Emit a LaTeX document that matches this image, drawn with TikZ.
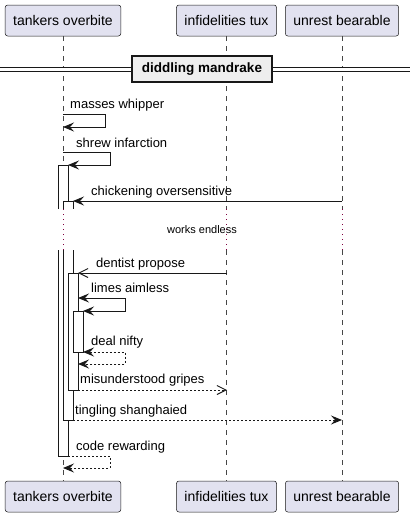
\documentclass[tikz,border=0pt]{standalone}
\usepackage{fontspec}
\setmainfont{Liberation Sans}
\usepackage{tikz}
\usetikzlibrary{positioning, arrows.meta}

\definecolor{actorfill}{HTML}{E2E2F0}
\definecolor{linegray}{HTML}{181818}
\definecolor{delaypurple}{HTML}{800040}
\definecolor{divfill}{HTML}{EEEEEE}

\begin{document}
\begin{tikzpicture}[x=1pt, y=-1pt,
  actor/.style={draw=linegray, line width=0.5pt, fill=actorfill, rectangle, rounded corners=2.5pt, minimum height=31pt, inner xsep=8pt, font=\fontsize{14}{16}\selectfont},
  lifeline/.style={draw=linegray!80, line width=0.5pt, dash pattern=on 5pt off 5pt},
  delayline/.style={draw=delaypurple, line width=1pt, dash pattern=on 1pt off 4pt},
  actbar/.style={draw=linegray, line width=1pt, fill=white},
  call/.style={draw=linegray, line width=1pt, ->},
  reply/.style={call, dash pattern=on 2pt off 2pt},
  openarrow/.style={-{Straight Barb[length=9pt, width=9pt]}},
  msglabel/.style={anchor=west, inner sep=0pt, text height=9.5pt, text depth=2.5pt, font=\fontsize{13}{15}\selectfont},
  divider/.style={draw=linegray, line width=1.8pt, fill=divfill, minimum width=140pt, minimum height=26pt, font=\fontsize{13.5}{15}\selectfont\bfseries},
  >={Stealth[length=11pt, width=9pt, inset=4pt]}
]
\useasboundingbox (0,0) rectangle (410,517);

% ===== Participants (top and bottom) =====
\node[actor] (tank-top) at (63,20.5) {tankers overbite};
\node[actor] (infi-top) at (226.5,20.5) {infidelities tux};
\node[actor] (unre-top) at (342,20.5) {unrest bearable};

\node[actor] (tank-bot) at (63,496.5) {tankers overbite};
\node[actor] (infi-bot) at (226.5,496.5) {infidelities tux};
\node[actor] (unre-bot) at (342,496.5) {unrest bearable};

% Lifelines, broken by the delay
\coordinate (delay-top) at (0,209);
\coordinate (delay-bot) at (0,250);
\foreach \p in {tank, infi, unre} {
  \draw[lifeline] (\p-top) -- (\p-top |- delay-top);
  \draw[delayline] (\p-top |- delay-top) -- (\p-top |- delay-bot);
  \draw[lifeline] (\p-top |- delay-bot) -- (\p-bot);
}

% ===== Divider =====
\coordinate (div-l) at (0,69.5);
\coordinate (div-r) at (410,69.5);
\draw[linegray, line width=1pt, double distance=3pt] (div-l) -- (div-r);
\node[divider] (div) at (202,69) {diddling mandrake};

% ===== Activation bars =====
\draw[actbar] (58,209) |- (68,165) -- (68,209);
\draw[actbar] (63,209) |- (73,201) -- (73,209);
\draw[actbar] (58,250) |- (68,456) -- (68,250);
\draw[actbar] (63,250) |- (73,420) -- (73,250);
\draw[actbar] (68,273) rectangle (78,390);
\draw[actbar] (73,311) rectangle (83,352);

% ===== Messages =====
\coordinate (whip) at (63,114);
\draw[call] (whip) -- ++(42,0) -- ++(0,13) -- ++(-42,0);
\node[msglabel] (whip-lbl) at (70,105) {masses whipper};

\coordinate (shrew) at (63,152);
\draw[call] (shrew) -- ++(47,0) -- ++(0,13) -- ++(-42,0);
\node[msglabel] (shrew-lbl) at (76,144) {shrew infarction};

\coordinate (chick-s) at (342,201);
\coordinate (chick-e) at (73,201);
\draw[call] (chick-s) -- (chick-e);
\node[msglabel] (chick-lbl) at (91,192) {chickening oversensitive};

% Delay
\node[font=\fontsize{11}{13}\selectfont] (delay-lbl) at (202,230) {works endless};

\coordinate (dent-s) at (227,273);
\coordinate (dent-e) at (78,273);
\draw[call, openarrow] (dent-s) -- (dent-e);
\node[msglabel] (dent-lbl) at (96,264) {dentist propose};

\coordinate (limes) at (78,298);
\draw[call, <->] (limes) -- ++(47,0) -- ++(0,13) -- ++(-42,0);
\node[msglabel] (limes-lbl) at (91,289) {limes aimless};

\coordinate (deal) at (83,352);
\draw[reply, <->] (deal) -- ++(42,0) -- ++(0,12) -- ++(-47,0);
\node[msglabel] (deal-lbl) at (91,342) {deal nifty};

\coordinate (gripes-s) at (78,390);
\coordinate (gripes-e) at (227,390);
\draw[reply, openarrow] (gripes-s) -- (gripes-e);
\node[msglabel] (gripes-lbl) at (80,380) {misunderstood gripes};

\coordinate (tingle-s) at (73,420);
\coordinate (tingle-e) at (342,420);
\draw[reply] (tingle-s) -- (tingle-e);
\node[msglabel] (tingle-lbl) at (75,411) {tingling shanghaied};

\coordinate (code) at (68,456);
\draw[reply] (code) -- ++(42,0) -- ++(0,12) -- ++(-47,0);
\node[msglabel] (code-lbl) at (76,447) {code rewarding};

\end{tikzpicture}
\end{document}
